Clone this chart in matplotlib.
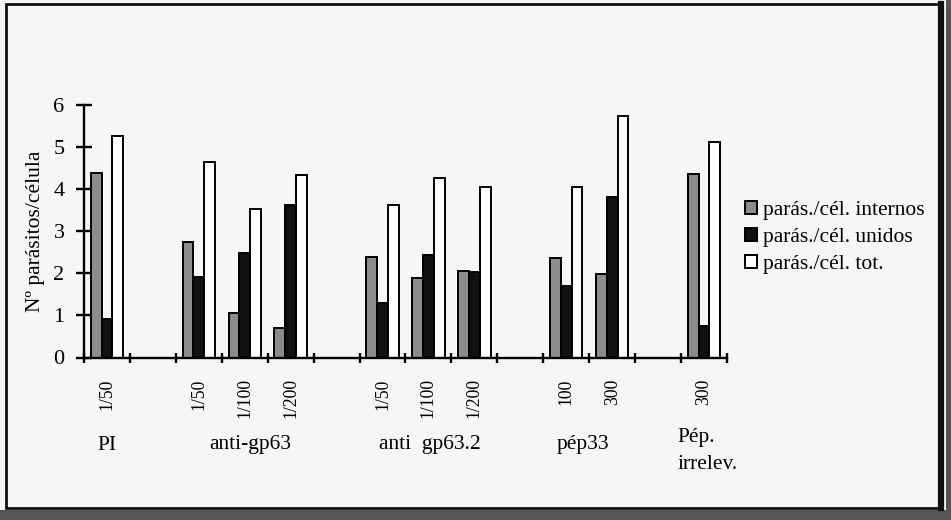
import matplotlib
matplotlib.use("Agg")
import matplotlib.pyplot as plt
import matplotlib.transforms as mtransforms
from matplotlib.patches import Rectangle
import numpy as np

plt.rcParams['font.family'] = ['Liberation Serif', 'DejaVu Serif']

# ---- data ----
dilutions = ["1/50", "", "1/50", "1/100", "1/200", "", "1/50", "1/100", "1/200",
             "", "100", "300", "", "300"]
internos = [4.39, np.nan, 2.75, 1.06, 0.71, np.nan, 2.38, 1.88, 2.06,
            np.nan, 2.36, 1.99, np.nan, 4.35]
unidos = [0.91, np.nan, 1.92, 2.48, 3.62, np.nan, 1.29, 2.43, 2.03,
          np.nan, 1.71, 3.82, np.nan, 0.75]
totales = [5.27, np.nan, 4.65, 3.52, 4.33, np.nan, 3.62, 4.26, 4.04,
           np.nan, 4.04, 5.75, np.nan, 5.11]
groups = ["PI", "anti-gp63", "anti  gp63.2", "pép33", "Pép.\nirrelev."]
group_pos = [0.5, 3.62, 7.54, 10.87, 12.92]
series_names = ["parás./cél. internos", "parás./cél. unidos", "parás./cél. tot."]

W, H = 951, 520
fig = plt.figure(figsize=(W / 100, H / 100), dpi=100)
fig.patch.set_facecolor("#f4f7f6")

# scan frame and dark margin
fig.add_artist(Rectangle((0, 0), 1, 10 / H, transform=fig.transFigure,
                         facecolor="#555555", edgecolor="none", zorder=0))
fig.add_artist(Rectangle((946 / W, 0), 5 / W, 1, transform=fig.transFigure,
                         facecolor="#555555", edgecolor="none", zorder=0))
fig.add_artist(Rectangle((6 / W, (H - 508) / H), (940 - 6) / W, (508 - 4) / H,
                         transform=fig.transFigure, facecolor="none",
                         edgecolor="#111111", linewidth=2.0, zorder=1))
fig.add_artist(plt.Line2D([941 / W, 941 / W], [(H - 508) / H, (H - 4) / H],
                          transform=fig.transFigure, color="#111111",
                          linewidth=4.5, zorder=1))

ax = fig.add_axes([84 / W, (H - 357.5) / H, (727 - 84) / W, (357.5 - 105) / H])
ax.set_facecolor("none")

n = len(dilutions)
x = np.arange(n) + 0.5
bw = 0.235
kw = dict(edgecolor="black", linewidth=1.4)
ax.bar(x - bw, internos, bw, color="#8c8c8c", label=series_names[0], **kw)
ax.bar(x, unidos, bw, color="#111111", label=series_names[1], **kw)
ax.bar(x + bw, totales, bw, color="white", label=series_names[2], **kw)

ax.set_xlim(0, n)
ax.set_ylim(0, 6)
for s in ["top", "right"]:
    ax.spines[s].set_visible(False)
ax.spines["left"].set_linewidth(1.7)
ax.spines["bottom"].set_linewidth(1.7)

ax.set_yticks(range(7))
ax.tick_params(axis="y", which="major", direction="inout", length=12, width=1.7,
               pad=8, labelsize=16)
ax.set_xticks(np.arange(n + 1))
ax.set_xticklabels([])
ax.tick_params(axis="x", which="major", direction="inout", length=7, width=1.7)
ax.set_xticks(x, minor=True)
ax.set_xticklabels(dilutions, minor=True, rotation=90, fontsize=12.7)
ax.tick_params(axis="x", which="minor", length=0, pad=15)

ax.set_ylabel("Nº parásitos/célula", fontsize=15.5, labelpad=6)

trans = mtransforms.blended_transform_factory(ax.transData, fig.transFigure)
for g, p in zip(groups, group_pos):
    if "\n" in g:
        ax.text(p, (H - 428) / H, g, transform=trans, ha="left", va="top",
                fontsize=15.5, linespacing=1.55)
    else:
        ax.text(p, (H - 445) / H, g, transform=trans, ha="center", va="center",
                fontsize=15.5)

fig.legend(loc="upper left", bbox_to_anchor=(745 / W, (H - 201) / H),
           frameon=False, fontsize=15.5, handlelength=0.55, handleheight=0.55,
           handletextpad=0.3, labelspacing=0.36, borderpad=0, borderaxespad=0)

fig.savefig("out.png", dpi=100, facecolor=fig.get_facecolor())
